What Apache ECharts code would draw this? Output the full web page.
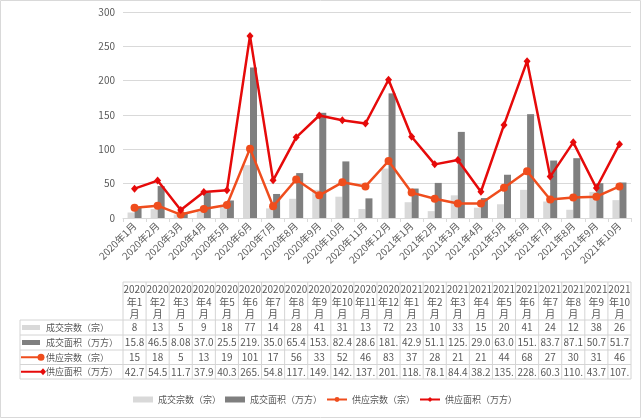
<!DOCTYPE html>
<html><head><meta charset="utf-8">
<script src="https://cdn.jsdelivr.net/npm/echarts@6/dist/echarts.min.js"></script>
<style>html,body{margin:0;padding:0;background:#fff}#c{width:641px;height:418px}</style>
</head><body><div id="c"></div>
<script>
const years = ['2020','2020','2020','2020','2020','2020','2020','2020','2020','2020','2020','2020','2021','2021','2021','2021','2021','2021','2021','2021','2021','2021'];
const months = [1,2,3,4,5,6,7,8,9,10,11,12,1,2,3,4,5,6,7,8,9,10];
const categories = years.map((y,i)=>y+'年'+months[i]+'月');
const dealCount = [8,13,5,9,18,77,14,28,41,31,13,72,23,10,33,15,20,41,24,12,38,26];
const dealArea = [15.8,46.5,8.08,37.0,25.5,219.3,35.0,65.4,153.2,82.4,28.6,181.5,42.9,51.1,125.4,29.0,63.0,151.2,83.7,87.1,50.7,51.7];
const supplyCount = [15,18,5,13,19,101,17,56,33,52,46,83,37,28,21,21,44,68,27,30,31,46];
const supplyArea = [42.7,54.5,11.7,37.9,40.3,265.2,54.8,117.5,149.3,142.4,137.6,201.3,118.4,78.1,84.4,38.2,135.6,228.4,60.3,110.2,43.7,107.5];
const seriesNames = ['成交宗数（宗）','成交面积（万方）','供应宗数（宗）','供应面积（万方）'];
const yTicks = [0,50,100,150,200,250,300];

const C_LIGHT='#d9d9d9', C_DARK='#7f7f7f', C_ORANGE='#ef4d1d', C_RED='#e60a0a', TXT='#595959', GRID='#d9d9d9';
const FONT='"Noto Sans CJK SC", "Noto Sans", sans-serif';

const chart = echarts.init(document.getElementById('c'), null, {renderer:'canvas'});
const option = {
  animation:false,
  textStyle:{fontFamily:FONT},
  grid:{left:123,right:10,top:12,bottom:200},
  legend:{bottom:9,left:128,itemGap:4,itemWidth:20,itemHeight:6,
    textStyle:{fontSize:9,color:TXT,fontFamily:FONT},
    data:[{name:seriesNames[0],icon:'rect'},{name:seriesNames[1],icon:'rect'},{name:seriesNames[2]},{name:seriesNames[3]}]},
  xAxis:{type:'category',data:categories,
    axisLine:{lineStyle:{color:GRID}},
    axisTick:{show:true,length:4,lineStyle:{color:GRID}},
    axisLabel:{rotate:45,fontSize:10,color:TXT,margin:6,interval:0,fontFamily:FONT}},
  yAxis:{type:'value',min:yTicks[0],max:yTicks[yTicks.length-1],interval:50,
    axisLine:{show:false},axisTick:{show:false},
    axisLabel:{fontSize:10,color:TXT,margin:8},
    splitLine:{lineStyle:{color:GRID}}},
  series:[
    {name:seriesNames[0],type:'bar',data:dealCount,barWidth:7,barGap:'0%',itemStyle:{color:C_LIGHT}},
    {name:seriesNames[1],type:'bar',data:dealArea,barWidth:7,barGap:'0%',itemStyle:{color:C_DARK}},
    {name:seriesNames[2],type:'line',data:supplyCount,symbol:'circle',symbolSize:8,lineStyle:{width:2.5,color:C_ORANGE},itemStyle:{color:C_ORANGE}},
    {name:seriesNames[3],type:'line',data:supplyArea,symbol:'diamond',symbolSize:[7,8],lineStyle:{width:2.5,color:C_RED},itemStyle:{color:C_RED}}
  ]
};
chart.setOption(option);

function fmtInt(v){return String(v);}
function fmtDec(v){
  const s = v<10 ? v.toFixed(2) : v.toFixed(1);
  return s.slice(0,4);
}

// build data table under the axis, aligned with category columns
const els=[];
const centers = categories.map((c,i)=>chart.convertToPixel({xAxisIndex:0},i));
const cw = centers.length>1 ? centers[1]-centers[0] : 23;
const tLeft=20, colLeft=centers[0]-cw/2, tRight=centers[centers.length-1]+cw/2;
const headTop=282, rowLines=[320,335,350,364.5,379];
const lc='#d4d4d4';
function hline(x1,x2,y){els.push({type:'line',shape:{x1:x1,y1:y,x2:x2,y2:y},style:{stroke:lc,lineWidth:1}});}
function vline(x,y1,y2){els.push({type:'line',shape:{x1:x,y1:y1,x2:x,y2:y2},style:{stroke:lc,lineWidth:1}});}
hline(colLeft,tRight,headTop);
rowLines.forEach(y=>hline(tLeft,tRight,y));
vline(tLeft,rowLines[0],rowLines[rowLines.length-1]);
for(let i=0;i<=centers.length;i++){vline(colLeft+i*cw,headTop,rowLines[rowLines.length-1]);}
centers.forEach((x,i)=>{
  els.push({type:'text',x:x,y:headTop+1,style:{text:years[i]+'\n年'+months[i]+'\n月',fill:TXT,font:'10px '+FONT,align:'center',verticalAlign:'top',lineHeight:12.5}});
});
const rowsData=[dealCount,dealArea,supplyCount,supplyArea];
const rowFmt=[fmtInt,fmtDec,fmtInt,fmtDec];
rowsData.forEach((arr,r)=>{
  const yc=(rowLines[r]+rowLines[r+1])/2;
  arr.forEach((v,i)=>{
    els.push({type:'text',x:centers[i],y:yc,style:{text:rowFmt[r](v),fill:TXT,font:'10px '+FONT,align:'center',verticalAlign:'middle'}});
  });
  els.push({type:'text',x:46,y:yc,style:{text:seriesNames[r],fill:TXT,font:'9px '+FONT,align:'left',verticalAlign:'middle'}});
  if(r===0||r===1){
    els.push({type:'rect',shape:{x:22,y:yc-2.5,width:18,height:5},style:{fill:r===0?C_LIGHT:C_DARK}});
  } else if(r===2){
    els.push({type:'line',shape:{x1:21,y1:yc,x2:41,y2:yc},style:{stroke:C_ORANGE,lineWidth:2}});
    els.push({type:'circle',shape:{cx:41,cy:yc,r:3.5},style:{fill:C_ORANGE}});
  } else {
    els.push({type:'line',shape:{x1:21,y1:yc,x2:43,y2:yc},style:{stroke:C_RED,lineWidth:2}});
    els.push({type:'polygon',shape:{points:[[43,yc-3.5],[46,yc],[43,yc+3.5],[40,yc]]},style:{fill:C_RED}});
  }
});
// outer frame
els.push({type:'rect',shape:{x:0.5,y:0.5,width:640,height:417},style:{fill:null,stroke:'#d9d9d9',lineWidth:1}});
chart.setOption({graphic:{elements:els}});
</script>
</body></html>
